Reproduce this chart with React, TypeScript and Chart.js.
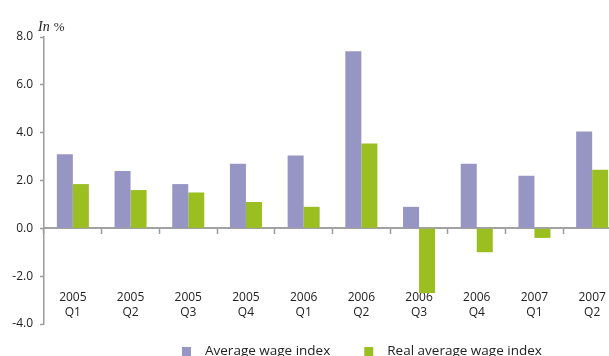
import React, { useEffect, useRef } from "react";
import { Chart, registerables } from "chart.js";

Chart.register(...registerables);

// Quarters shown on the category axis (year over quarter)
const categories: string[][] = [
  ["2005", "Q1"], ["2005", "Q2"], ["2005", "Q3"], ["2005", "Q4"],
  ["2006", "Q1"], ["2006", "Q2"], ["2006", "Q3"], ["2006", "Q4"],
  ["2007", "Q1"], ["2007", "Q2"],
];

// Year-on-year change, in %
const averageWageIndex: number[] = [3.1, 2.4, 1.85, 2.7, 3.05, 7.4, 0.9, 2.7, 2.2, 4.05];
const realAverageWageIndex: number[] = [1.85, 1.6, 1.5, 1.1, 0.9, 3.55, -2.7, -1.0, -0.4, 2.45];

const seriesLabels = ["Average wage index", "Real average wage index"];
const seriesColors = ["#9795c4", "#9bbf20"];

const yMin = -4;
const yMax = 8;
const yStep = 2;

const FONT = "'Open Sans', 'Noto Sans', sans-serif";
const TEXT = "#222222";
const AXIS = "#9c9c9c";

// Unit caption above the value axis: italic "In" followed by "%"
const unitCaption = {
  id: "unitCaption",
  afterDraw(chart: Chart) {
    const { ctx, chartArea } = chart;
    ctx.save();
    ctx.fillStyle = TEXT;
    ctx.textBaseline = "alphabetic";
    ctx.textAlign = "left";
    const x = chartArea.left - 6;
    const y = chartArea.top - 6;
    ctx.font = "italic 14px 'Liberation Serif', 'DejaVu Serif', serif";
    ctx.fillText("In", x, y);
    const w = ctx.measureText("In").width;
    ctx.font = "13px 'Liberation Serif', 'DejaVu Serif', serif";
    ctx.fillText("%", x + w + 4, y);
    ctx.restore();
  },
};

// Legend row beneath the plot: small squares followed by the series names
const seriesLegend = {
  id: "seriesLegend",
  afterDraw(chart: Chart) {
    const { ctx, chartArea } = chart;
    const box = 9;
    const gapText = 14;
    const gapItem = 34;
    let x = chartArea.left + 138;
    const cy = chartArea.bottom + 27.5;
    ctx.save();
    ctx.font = `13.5px ${FONT}`;
    ctx.textBaseline = "middle";
    ctx.textAlign = "left";
    chart.data.datasets.forEach((ds: any) => {
      ctx.fillStyle = ds.backgroundColor;
      ctx.fillRect(x, cy - box / 2, box, box);
      x += box + gapText;
      ctx.fillStyle = TEXT;
      ctx.fillText(ds.label, x, cy);
      x += ctx.measureText(ds.label).width + gapItem;
    });
    ctx.restore();
  },
};

export default function App() {
  const canvasRef = useRef<HTMLCanvasElement | null>(null);

  useEffect(() => {
    const canvas = canvasRef.current;
    if (!canvas) return;
    const chart = new Chart(canvas, {
      type: "bar",
      data: {
        labels: categories,
        datasets: [
          {
            label: seriesLabels[0],
            data: averageWageIndex,
            backgroundColor: seriesColors[0],
            categoryPercentage: 0.555,
            barPercentage: 1,
          },
          {
            label: seriesLabels[1],
            data: realAverageWageIndex,
            backgroundColor: seriesColors[1],
            categoryPercentage: 0.555,
            barPercentage: 1,
          },
        ],
      },
      options: {
        responsive: false,
        animation: false,
        devicePixelRatio: 1,
        layout: { padding: { top: 37, bottom: 46, left: 0, right: 19 } },
        plugins: {
          legend: { display: false },
          tooltip: { enabled: false },
        },
        scales: {
          x: {
            type: "category",
            position: { y: 0 } as any,
            z: 1,
            offset: true,
            // the category axis sits on the zero line, so it needs no side padding
            afterFit: (scale: any) => {
              scale.paddingLeft = 0;
              scale.paddingRight = 0;
            },
            grid: {
              offset: true,
              drawOnChartArea: false,
              drawTicks: true,
              tickLength: 5,
              tickWidth: 1.5,
              color: AXIS,
            },
            border: { display: true, color: "rgba(130,130,130,0.75)", width: 2 },
            ticks: {
              color: TEXT,
              font: { family: FONT, size: 12, lineHeight: 1.25 },
              padding: 57,
              maxRotation: 0,
              autoSkip: false,
            },
          },
          y: {
            type: "linear",
            position: "left",
            min: yMin,
            max: yMax,
            afterFit: (scale: any) => {
              scale.width = 44;
            },
            grid: {
              drawOnChartArea: false,
              drawTicks: true,
              tickLength: 4,
              tickWidth: 1.5,
              color: AXIS,
            },
            border: { display: true, color: AXIS, width: 1.5 },
            ticks: {
              stepSize: yStep,
              color: TEXT,
              font: { family: FONT, size: 12 },
              padding: 7,
              callback: (v: any) => Number(v).toFixed(1),
            },
          },
        },
      },
      plugins: [unitCaption, seriesLegend],
    });
    return () => chart.destroy();
  }, []);

  return (
    <div
      style={{
        position: "fixed",
        left: 0,
        top: 0,
        width: 609,
        height: 356,
        overflow: "hidden",
        background: "#ffffff",
      }}
    >
      <canvas ref={canvasRef} width={640} height={370} style={{ display: "block" }} />
    </div>
  );
}
